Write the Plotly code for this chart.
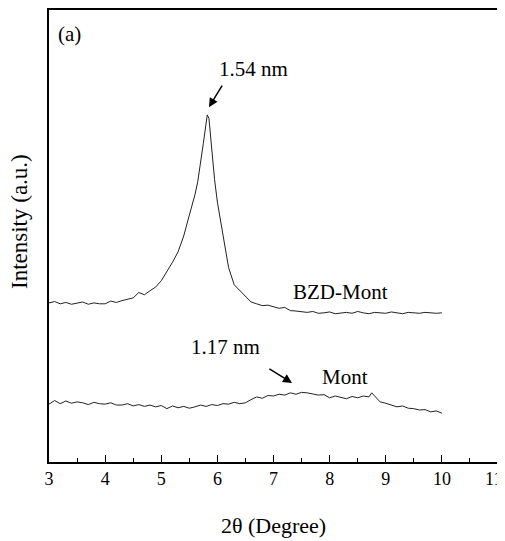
import plotly.graph_objects as go

# 2theta (degree) and intensity (a.u.)
bzd_x = [3.0, 3.1, 3.2, 3.3, 3.4, 3.5, 3.6, 3.7, 3.8, 3.9, 4.0, 4.1, 4.2, 4.3, 4.4, 4.5,
         4.6, 4.7, 4.8, 4.9, 5.0, 5.1, 5.2, 5.3, 5.4, 5.5, 5.6, 5.65, 5.7, 5.75, 5.8, 5.82,
         5.85, 5.9, 5.95, 6.0, 6.05, 6.1, 6.15, 6.2, 6.3, 6.4, 6.5, 6.6, 6.7, 6.8, 6.9, 7.0,
         7.1, 7.2, 7.3, 7.4, 7.5, 7.6, 7.7, 7.8, 7.9, 8.0, 8.1, 8.2, 8.3, 8.4, 8.5, 8.6,
         8.7, 8.8, 8.9, 9.0, 9.1, 9.2, 9.3, 9.4, 9.5, 9.6, 9.7, 9.8, 9.9, 10.0]
bzd_y = [35.2, 35.5, 35.0, 35.3, 34.9, 35.1, 35.4, 34.9, 35.2, 35.0, 35.0, 35.6, 35.3, 35.7,
         36.0, 36.3, 37.5, 37.0, 37.9, 38.7, 40.1, 42.0, 44.2, 46.5, 50.0, 54.6, 59.1, 62.0,
         66.8, 70.5, 75.0, 76.8, 76.0, 69.0, 62.5, 57.5, 54.0, 50.2, 46.5, 43.0, 39.2, 38.0,
         36.8, 35.4, 35.0, 34.6, 34.7, 34.3, 34.0, 34.2, 33.5, 33.4, 33.2, 33.1, 33.3, 32.9,
         33.0, 33.2, 32.8, 33.0, 33.1, 32.9, 33.3, 33.0, 32.8, 33.1, 33.0, 32.9, 33.2, 33.0,
         32.8, 33.1, 33.0, 32.9, 33.1, 33.0, 32.9, 33.0]

mont_x = [3.0, 3.1, 3.2, 3.3, 3.4, 3.5, 3.6, 3.7, 3.8, 3.9, 4.0, 4.1, 4.2, 4.3, 4.4, 4.5,
          4.6, 4.7, 4.8, 4.9, 5.0, 5.1, 5.2, 5.3, 5.4, 5.5, 5.6, 5.7, 5.8, 5.9, 6.0, 6.1,
          6.2, 6.3, 6.4, 6.5, 6.6, 6.7, 6.8, 6.9, 7.0, 7.1, 7.2, 7.3, 7.4, 7.5, 7.6, 7.7,
          7.8, 7.9, 8.0, 8.1, 8.2, 8.3, 8.4, 8.5, 8.6, 8.7, 8.75, 8.8, 8.9, 9.0, 9.1, 9.2,
          9.3, 9.4, 9.5, 9.6, 9.7, 9.8, 9.9, 10.0]
mont_y = [12.8, 13.6, 12.9, 13.5, 13.0, 13.3, 13.1, 12.7, 13.2, 12.9, 12.8, 13.1, 12.6, 12.6,
          12.9, 12.4, 12.7, 12.3, 12.6, 12.2, 12.5, 11.8, 12.4, 12.0, 12.3, 11.9, 12.2, 12.6,
          12.3, 12.7, 12.5, 12.9, 12.8, 13.2, 12.9, 13.1, 13.8, 14.4, 14.1, 14.7, 14.6, 15.0,
          14.8, 15.3, 15.0, 15.4, 15.3, 15.1, 14.8, 14.9, 14.2, 14.6, 14.3, 14.0, 14.5, 14.2,
          14.6, 14.4, 15.3, 14.6, 13.3, 13.0, 12.6, 12.2, 12.4, 11.9, 11.8, 11.5, 11.6, 11.1,
          11.3, 10.8]

x_ticks = [3, 4, 5, 6, 7, 8, 9, 10, 11]
x_ticktext = ["3", "4", "5", "6", "7", "8", "9", "10", "11"]
font_family = "Liberation Serif, Times New Roman, serif"

fig = go.Figure()
fig.add_trace(go.Scatter(x=bzd_x, y=bzd_y, mode="lines", name="BZD-Mont",
                         line=dict(color="#222222", width=1)))
fig.add_trace(go.Scatter(x=mont_x, y=mont_y, mode="lines", name="Mont",
                         line=dict(color="#222222", width=1)))

ann_font = dict(family=font_family, size=21, color="black")
fig.add_annotation(x=3.36, y=94.7, text="(a)", showarrow=False, font=ann_font)
fig.add_annotation(x=6.65, y=86.9, text="1.54 nm", showarrow=False, font=ann_font)
fig.add_annotation(x=5.85, y=78.5, ax=6.10, ay=83.6, axref="x", ayref="y", text="",
                   showarrow=True, arrowhead=2, arrowsize=1.2, arrowwidth=1.5, arrowcolor="black")
fig.add_annotation(x=8.19, y=37.6, text="BZD-Mont", showarrow=False, font=ann_font)
fig.add_annotation(x=6.14, y=25.4, text="1.17 nm", showarrow=False, font=ann_font)
fig.add_annotation(x=7.33, y=17.5, ax=6.90, ay=20.8, axref="x", ayref="y", text="",
                   showarrow=True, arrowhead=2, arrowsize=1.2, arrowwidth=1.5, arrowcolor="black")
fig.add_annotation(x=8.28, y=18.8, text="Mont", showarrow=False, font=ann_font)
# y-axis title placed as rotated text left of the frame
fig.add_annotation(xref="paper", yref="paper", x=-0.067, y=0.533, xanchor="center",
                   yanchor="middle", text="Intensity (a.u.)", textangle=-90, showarrow=False,
                   font=dict(family=font_family, size=23, color="black"))
# last tick label sits at the page edge; drawn nudged left so it stays visible
fig.add_annotation(x=x_ticks[-1], xref="x", yref="paper", y=-0.0376, xanchor="center",
                   yanchor="middle", xshift=-5, text=x_ticktext[-1], showarrow=False,
                   font=dict(family=font_family, size=18, color="black"))

# page body has an 8px margin, so the figure is sized/margined to land the frame at
# the reference's pixel positions
fig.update_layout(
    width=497, height=533,
    margin=dict(l=41, r=7, t=2, b=79),
    paper_bgcolor="white", plot_bgcolor="white",
    showlegend=False,
    font=dict(family=font_family, color="black"),
)
fig.update_xaxes(
    range=[3, 11], tickvals=x_ticks, ticktext=x_ticktext[:-1] + [""],
    ticks="inside", ticklen=7, tickwidth=1, tickcolor="black",
    minor=dict(ticks="inside", ticklen=4, dtick=0.5, tickcolor="black", tickwidth=1),
    showline=True, linecolor="black", linewidth=1.5, mirror=True,
    showgrid=False, zeroline=False, automargin=False,
    tickfont=dict(size=18, family=font_family),
    title=dict(text="2θ (Degree)", font=dict(size=22, family=font_family), standoff=29),
)
fig.update_yaxes(
    range=[0, 100], showticklabels=False, ticks="",
    showline=True, linecolor="black", linewidth=1.5, mirror=True,
    showgrid=False, zeroline=False, automargin=False,
)

fig.write_html("out.html")
